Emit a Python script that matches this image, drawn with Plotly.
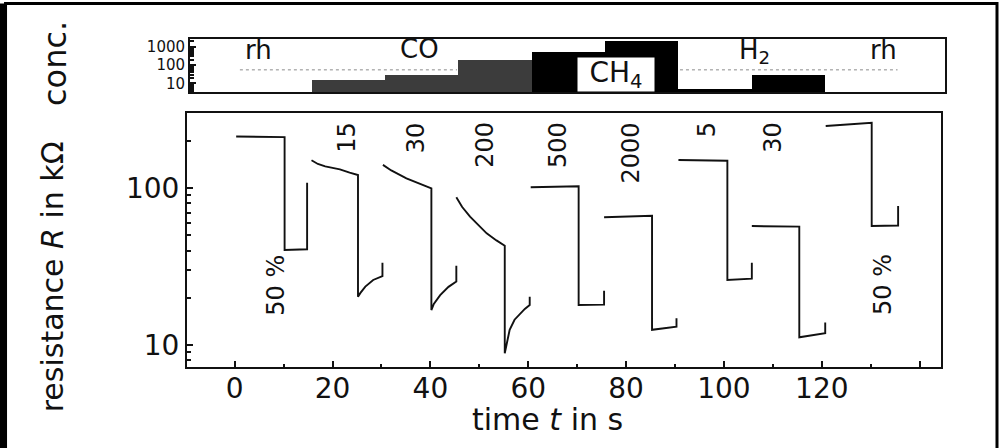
import plotly.graph_objects as go

FONT = "DejaVu Sans"

# ---- top panel: gas pulses (ppm) ----
gas_start = [15, 30, 45, 60, 75, 90, 105]
gas_end = [30, 45, 60, 75, 90, 105, 120]
gas_conc = [15, 30, 200, 500, 2000, 5, 30]
gas_kind = ["CO", "CO", "CO", "CH4", "CH4", "H2", "H2"]
gas_colors = {"CO": "#3c3c3c", "CH4": "#000000", "H2": "#000000"}

# dotted rel. humidity level
rh_t = [0.3, 44.7, None, 90.3, 134.8]
rh_level = [55, 55, None, 55, 55]

# ---- bottom panel: sensor resistance (kOhm), one list per 15 s record ----
time_blocks = [
    [0.3, 3, 6, 8.5, 10.2, 10.2, 12.5, 14.8, 14.8],
    [15.7, 17, 18.5, 20, 21.5, 23.5, 25.2, 25.2, 25.7, 26.7, 28.3, 30.2, 30.2],
    [30.3, 32, 35.1, 38, 40.2, 40.2, 40.7, 42, 43.7, 45.3, 45.3],
    [45.3, 46.5, 48.1, 50, 51.5, 53.5, 55.2, 55.2, 55.8, 56.2, 57.2, 58.3, 59.3, 60.3, 60.3],
    [60.5, 65, 70.3, 70.3, 75.5, 75.5],
    [75.5, 80, 85.3, 85.3, 90.3, 90.3],
    [90.7, 95, 100.7, 100.7, 105.7, 105.7],
    [105.7, 110, 115.4, 115.4, 120.7, 120.7],
    [120.8, 125, 128, 130.2, 130.2, 135.6, 135.6],
]
res_blocks = [
    [214, 213, 214, 211, 212, 40.4, 40.6, 40.8, 108.6],
    [151, 143, 138, 135, 132, 126, 121.6, 20.3, 21.5, 23.6, 26, 27.5, 33.5],
    [141, 130, 115.8, 106, 100, 16.7, 18.3, 20.8, 23.5, 25.4, 32],
    [87.7, 76, 65.9, 57, 51.6, 46.5, 43, 8.85, 11, 12.5, 14.5, 15.9, 17, 18, 20.3],
    [101.5, 102.5, 103, 18, 18.1, 22.2],
    [65.3, 66, 66.8, 12.5, 13.1, 14.8],
    [151.6, 151, 150, 26, 26.5, 33.5],
    [57.4, 57, 56.9, 11.2, 11.9, 13.9],
    [250, 255, 258, 262, 57.4, 57.9, 77],
]

# concentration labels written above each record
conc_labels = ["15", "30", "200", "500", "2000", "5", "30"]
conc_label_t = [23.0, 37.2, 51.1, 66.1, 81.2, 96.7, 110.1]

x_ticks = [0, 20, 40, 60, 80, 100, 120, 140]
x_ticktext = ["0", "20", "40", "60", "80", "100", "120", " "]
x_minor = [10, 30, 50, 70, 90, 110, 130]
r_ticks = [10, 100]
r_minor = [8, 9, 20, 30, 40, 50, 60, 70, 80, 90, 200, 300]
c_ticks = [10, 100, 1000]
c_minor = [4, 5, 6, 7, 8, 9, 20, 30, 40, 50, 60, 70, 80, 90,
           200, 300, 400, 500, 600, 700, 800, 900, 2000]

INK = "#111111"

fig = go.Figure()

for t, r in zip(time_blocks, res_blocks):
    fig.add_trace(go.Scatter(x=t, y=r, mode="lines", xaxis="x", yaxis="y",
                             line=dict(color=INK, width=1.9),
                             showlegend=False, hoverinfo="skip"))

fig.add_trace(go.Bar(
    x=[(a + b) / 2 for a, b in zip(gas_start, gas_end)],
    y=gas_conc,
    width=[b - a for a, b in zip(gas_start, gas_end)],
    marker=dict(color=[gas_colors[k] for k in gas_kind], line=dict(width=0)),
    xaxis="x2", yaxis="y2", showlegend=False, hoverinfo="skip"))

fig.add_trace(go.Scatter(x=rh_t, y=rh_level, mode="lines", xaxis="x2", yaxis="y2",
                         line=dict(color="#8c8c8c", width=1, dash="dot"),
                         showlegend=False, hoverinfo="skip"))

axis_common = dict(showline=True, linecolor=INK, linewidth=2, mirror=True,
                   showgrid=False, zeroline=False, automargin=False)

fig.update_layout(
    width=1005, height=448,
    margin=dict(l=187, r=60, t=39, b=81),
    paper_bgcolor="white", plot_bgcolor="white",
    font=dict(family=FONT, color=INK),
    xaxis=dict(domain=[0, 0.9943], range=[-9.75, 144.3], anchor="y",
               tickmode="array", tickvals=x_ticks, ticktext=x_ticktext,
               ticks="inside", ticklen=6, tickwidth=2, tickcolor=INK,
               ticklabelstandoff=-5,
               tickfont=dict(size=28, family=FONT),
               minor=dict(tickmode="array", tickvals=x_minor, ticks="inside",
                          ticklen=3, tickwidth=2, tickcolor=INK),
               **axis_common),
    yaxis=dict(domain=[0, 0.7735], type="log", range=[0.8596, 2.4786], anchor="x",
               tickmode="array", tickvals=r_ticks, ticktext=["10", "100"],
               ticks="inside", ticklen=6, tickwidth=2, tickcolor=INK,
               tickfont=dict(size=28, family=FONT),
               minor=dict(tickmode="array", tickvals=r_minor, ticks="inside",
                          ticklen=4, tickwidth=1.5, tickcolor=INK),
               **axis_common),
    xaxis2=dict(domain=[0.004, 1.0], range=[-9.9, 144.5], anchor="y2",
                showticklabels=False, ticks="", **axis_common),
    yaxis2=dict(domain=[0.8375, 1.0], type="log", range=[0.518, 3.42], anchor="x2",
                tickmode="array", tickvals=c_ticks, ticktext=["10", "100", "1000"],
                ticks="inside", ticklen=6, tickwidth=2, tickcolor=INK,
                tickfont=dict(size=15, family=FONT),
                minor=dict(tickmode="array", tickvals=c_minor, ticks="inside",
                           ticklen=4, tickwidth=1.5, tickcolor=INK),
                **axis_common),
    bargap=0,
)


def label(text, x, y, xref, yref, size, angle=0, **kw):
    d = dict(text=text, x=x, y=y, xref=xref, yref=yref, showarrow=False,
             textangle=angle, xanchor="center", yanchor="middle",
             font=dict(size=size, family=FONT, color=INK))
    d.update(kw)
    return d


ann = []
# gas names in the top panel (log axis -> y in log10 units)
for txt, tx, ly in [("rh", 4.0, 2.83), ("CO", 37.1, 2.88), ("H<sub>2</sub>", 105.6, 2.74),
                    ("rh", 132.0, 2.83)]:
    ann.append(label(txt, tx, ly, "x2", "y2", 26))
ann.append(label("CH<sub>4</sub>", 77.2, 1.50, "x2", "y2", 28,
                 bgcolor="white", width=76, height=33, borderpad=0))

for txt, tx in zip(conc_labels, conc_label_t):
    ann.append(label(txt, tx, 2.436, "x", "y", 24, angle=-90, yanchor="top"))
for tx, ly in [(8.4, 1.383), (132.5, 1.389)]:
    ann.append(label("50 %", tx, ly, "x", "y", 24, angle=-90))

# axis titles
ann.append(label("time <i>t</i> in s", 64, -0.160, "x", "paper", 30))
ann.append(label("resistance <i>R</i> in kΩ", -0.177, 0.276, "paper", "paper", 30, angle=-90))
ann.append(label("conc.", -0.174, 0.924, "paper", "paper", 32, angle=-90))
fig.update_layout(annotations=ann)

# outer frame of the scanned figure
fig.add_shape(type="rect", xref="paper", yref="paper", x0=-0.2394, x1=1.0686,
              y0=-0.30, y1=1.1082, line=dict(color="black", width=3))
fig.add_shape(type="line", xref="paper", yref="paper", x0=-0.2421, x1=-0.2421,
              y0=-0.30, y1=1.1082, line=dict(color="black", width=7))

fig.write_html("out.html", config={"displayModeBar": False},
               post_script="document.body.style.margin='0';")
